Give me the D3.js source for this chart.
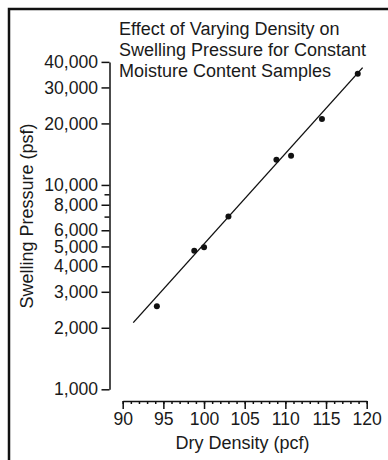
<!DOCTYPE html>
<html>
<head>
<meta charset="utf-8">
<script src="https://cdn.jsdelivr.net/npm/d3@7"></script>
<style>
  html, body { margin: 0; padding: 0; background: #fff; }
  svg { display: block; }
  text { font-family: "Liberation Sans", Arial, Helvetica, sans-serif; fill: #1a1a1a; }
</style>
</head>
<body>
<svg id="chart" width="388" height="460"></svg>
<script>
// Measured samples: dry density (pcf) and swelling pressure (psf)
const density  = [94.2, 98.8, 100.0, 103.0, 108.9, 110.7, 114.5, 118.9];
const pressure = [2550, 4770, 4960, 7000, 13300, 13900, 21000, 35000];

// Best-fit line end points
const trendDensity  = [91.3, 119.5];
const trendPressure = [2120, 37500];

// Axis ticks
const xTicks      = [90, 95, 100, 105, 110, 115, 120];
const yTicks      = [1000, 2000, 3000, 4000, 5000, 6000, 8000, 10000, 20000, 30000, 40000];
const yMinorTicks = [7000, 9000];

const titleLines = ["Effect of Varying Density on", "Swelling Pressure for Constant", "Moisture Content Samples"];
const xTitle = "Dry Density (pcf)";
const yTitle = "Swelling Pressure (psf)";

const svg = d3.select("#chart");
const ink = "#111";

// Panel frame (top and left edges show)
svg.append("rect")
  .attr("x", 9).attr("y", 9)
  .attr("width", 500).attr("height", 500)
  .attr("fill", "none").attr("stroke", ink).attr("stroke-width", 2.5);

const x = d3.scaleLinear().domain([90, 120]).range([122.7, 366.7]);
const y = d3.scaleLog().domain([1000, 40000]).range([389.3, 61.9]);

const axisY = 109.5;   // x position of the vertical axis
const axisX = 401;     // y position of the horizontal axis

// Y axis
svg.append("g").attr("transform", `translate(${axisY},0)`)
  .call(d3.axisLeft(y).tickValues(yTicks).tickFormat(d3.format(","))
    .tickSize(8).tickSizeOuter(0).tickPadding(3.5));
svg.append("g").attr("transform", `translate(${axisY},0)`)
  .call(d3.axisLeft(y).tickValues(yMinorTicks).tickFormat("")
    .tickSize(5).tickSizeOuter(0))
  .select(".domain").remove();

// X axis with unit minor ticks
svg.append("g").attr("transform", `translate(0,${axisX})`)
  .call(d3.axisBottom(x).tickValues(xTicks).tickFormat(d3.format("d"))
    .tickSize(8).tickSizeOuter(0).tickPadding(4));
svg.append("g").attr("transform", `translate(0,${axisX})`)
  .call(d3.axisBottom(x).tickValues(d3.range(90, 121, 1)).tickFormat("")
    .tickSize(3).tickSizeOuter(0))
  .select(".domain").remove();

svg.selectAll(".domain, .tick line").attr("stroke", ink).attr("stroke-width", 1.5);
svg.selectAll(".tick text").attr("font-size", 17.6).attr("fill", "#1a1a1a")
  .attr("font-family", "'Liberation Sans', Arial, Helvetica, sans-serif");

// Fit line
const line = d3.line().x(d => x(d[0])).y(d => y(d[1]));
svg.append("path")
  .datum(d3.zip(trendDensity, trendPressure))
  .attr("d", line)
  .attr("fill", "none").attr("stroke", ink).attr("stroke-width", 1.4);

// Sample points
svg.append("g").selectAll("circle")
  .data(d3.zip(density, pressure))
  .join("circle")
  .attr("cx", d => x(d[0])).attr("cy", d => y(d[1]))
  .attr("r", 3).attr("fill", ink);

// Title
svg.append("text")
  .attr("x", 119).attr("y", 34.5)
  .attr("font-size", 18)
  .selectAll("tspan").data(titleLines).join("tspan")
  .attr("x", 119).attr("dy", (d, i) => i === 0 ? 0 : 21)
  .text(d => d);

// Axis titles
svg.append("text")
  .attr("x", 242.5).attr("y", 449)
  .attr("text-anchor", "middle").attr("font-size", 18)
  .text(xTitle);

svg.append("text")
  .attr("transform", "translate(33,216) rotate(-90)")
  .attr("text-anchor", "middle").attr("font-size", 18)
  .text(yTitle);
</script>
</body>
</html>
